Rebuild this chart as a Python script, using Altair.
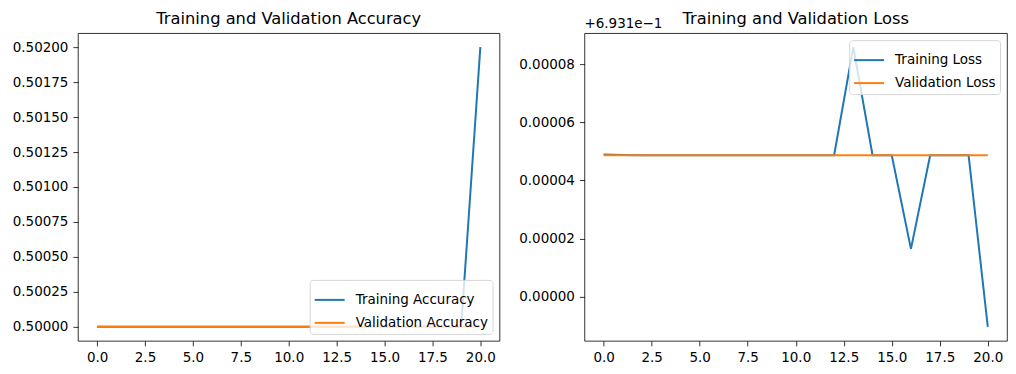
import altair as alt
import pandas as pd

epochs = [0, 1, 2, 3, 4, 5, 6, 7, 8, 9, 10, 11, 12, 13, 14, 15, 16, 17, 18, 19, 20]

train_acc = [0.5, 0.5, 0.5, 0.5, 0.5, 0.5, 0.5, 0.5, 0.5, 0.5, 0.5,
             0.5, 0.5, 0.5, 0.5, 0.5, 0.5, 0.5, 0.5, 0.5, 0.502]
val_acc = [0.5, 0.5, 0.5, 0.5, 0.5, 0.5, 0.5, 0.5, 0.5, 0.5, 0.5,
           0.5, 0.5, 0.5, 0.5, 0.5, 0.5, 0.5, 0.5, 0.5, 0.5]

# loss values relative to the axis offset (+6.931e-1)
loss_offset_label = "+6.931e\u22121"
train_loss = [4.90e-5, 4.88e-5, 4.87e-5, 4.87e-5, 4.87e-5, 4.87e-5, 4.87e-5,
              4.87e-5, 4.87e-5, 4.87e-5, 4.87e-5, 4.87e-5, 4.87e-5, 8.60e-5,
              4.87e-5, 4.87e-5, 1.64e-5, 4.87e-5, 4.87e-5, 4.87e-5, -1.05e-5]
val_loss = [4.87e-5, 4.87e-5, 4.87e-5, 4.87e-5, 4.87e-5, 4.87e-5, 4.87e-5,
            4.87e-5, 4.87e-5, 4.87e-5, 4.87e-5, 4.87e-5, 4.87e-5, 4.87e-5,
            4.87e-5, 4.87e-5, 4.87e-5, 4.87e-5, 4.87e-5, 4.87e-5, 4.87e-5]

x_ticks = [0, 2.5, 5, 7.5, 10, 12.5, 15, 17.5, 20]
acc_ticks = [0.5, 0.50025, 0.5005, 0.50075, 0.501, 0.50125, 0.5015, 0.50175, 0.502]
loss_ticks = [0.0, 0.00002, 0.00004, 0.00006, 0.00008]

acc_names = ["Training Accuracy", "Validation Accuracy"]
loss_names = ["Training Loss", "Validation Loss"]
titles = ["Training and Validation Accuracy", "Training and Validation Loss"]

acc_df = pd.DataFrame({
    "epoch": epochs + epochs,
    "value": train_acc + val_acc,
    "series": [acc_names[0]] * len(epochs) + [acc_names[1]] * len(epochs),
})
loss_df = pd.DataFrame({
    "epoch": epochs + epochs,
    "value": train_loss + val_loss,
    "series": [loss_names[0]] * len(epochs) + [loss_names[1]] * len(epochs),
})

FONT = "DejaVu Sans"
COLORS = ["#1f77b4", "#ff7f0e"]
W_LEFT, W_RIGHT, H = 422, 423, 308


def make_legend(orient):
    return alt.Legend(
        title=None, orient=orient, offset=7,
        symbolType="stroke", symbolSize=900, symbolStrokeWidth=2,
        labelFont=FONT, labelFontSize=13.5, labelColor="black", labelLimit=400,
        labelOffset=10, padding=4, rowPadding=-6,
        strokeColor="#d6d6d6", cornerRadius=3, fillColor="rgba(255,255,255,0.8)",
    )


def lines(df, names, ydom, yticks, orient):
    return alt.Chart(df).mark_line(strokeWidth=2, clip=True).encode(
        x=alt.X("epoch:Q",
                scale=alt.Scale(domain=[-1, 21], nice=False, zero=False),
                axis=alt.Axis(values=x_ticks, format=".1f", title=None)),
        y=alt.Y("value:Q",
                scale=alt.Scale(domain=ydom, nice=False, zero=False),
                axis=alt.Axis(values=yticks, format=".5f", title=None)),
        color=alt.Color("series:N",
                        scale=alt.Scale(domain=names, range=COLORS),
                        legend=make_legend(orient)),
    )


def title_mark(text, width):
    return alt.Chart(pd.DataFrame({"t": [text]})).mark_text(
        align="center", baseline="alphabetic", font=FONT, fontSize=16.3, color="black"
    ).encode(x=alt.value(width / 2), y=alt.value(-9), text="t:N")


left = alt.layer(
    lines(acc_df, acc_names, [0.4999, 0.5021], acc_ticks, "bottom-right"),
    title_mark(titles[0], W_LEFT),
).properties(width=W_LEFT, height=H)

offset_text = alt.Chart(pd.DataFrame({"t": [loss_offset_label]})).mark_text(
    align="left", baseline="alphabetic", font=FONT, fontSize=13.5, color="black"
).encode(x=alt.value(0), y=alt.value(-5), text="t:N")

right = alt.layer(
    lines(loss_df, loss_names, [-1.53e-5, 9.08e-5], loss_ticks, "top-right"),
    title_mark(titles[1], W_RIGHT),
    offset_text,
).properties(width=W_RIGHT, height=H)

chart = alt.hconcat(left, right, spacing=85, bounds="flush").resolve_scale(
    color="independent"
).properties(
    padding={"left": 3, "top": 2, "right": 0, "bottom": 0},
    background="white",
).configure_axis(
    labelFont=FONT, labelFontSize=13.5, labelColor="black",
    tickColor="black", tickSize=5, tickWidth=0.8, labelPadding=5,
    domain=False, grid=False,
).configure_view(
    stroke="black", strokeWidth=0.8,
)

chart.save("out.html", embed_options={"renderer": "svg", "actions": False})
